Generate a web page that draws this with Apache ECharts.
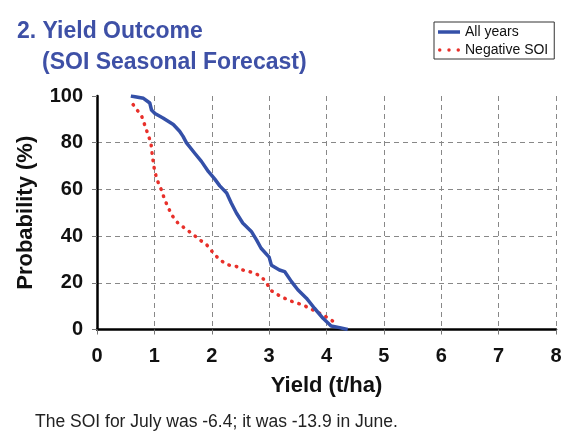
<!DOCTYPE html>
<html>
<head>
<meta charset="utf-8">
<script src="https://cdn.jsdelivr.net/npm/echarts@6/dist/echarts.min.js"></script>
<style>
html,body{margin:0;padding:0;background:#fff;}
#c{width:577px;height:437px;}
</style>
</head>
<body>
<div id="c"></div>
<script>
var titleLine1 = "2. Yield Outcome";
var titleLine2 = "(SOI Seasonal Forecast)";
var footnote = "The SOI for July was -6.4; it was -13.9 in June.";
var xAxisName = "Yield (t/ha)";
var yAxisName = "Probability (%)";
var seriesNames = ["All years", "Negative SOI"];

var allYearsYield = [0.59,0.81,0.92,0.95,1.01,1.15,1.33,1.44,1.50,1.56,1.70,1.82,1.94,2.05,2.14,2.26,2.34,2.43,2.54,2.69,2.78,2.86,3.00,3.04,3.18,3.27,3.39,3.50,3.65,3.79,3.94,4.08,4.23,4.37];
var allYearsProb  = [100,99,97,94,92.5,90.6,87.8,84.9,82.7,79.9,75.6,72,67.7,64.5,61.5,58.5,54.2,49.9,45.6,42,38.4,34.8,31,27.5,25.5,24.8,20.5,17,13.4,9.1,4.8,1.5,0.8,0];

var negYield = [0.63,0.78,0.86,0.94,0.96,0.99,1.03,1.07,1.12,1.18,1.30,1.41,1.53,1.68,1.79,1.91,2.03,2.14,2.28,2.43,2.54,2.66,2.81,2.92,3.04,3.21,3.41,3.59,3.76,3.94,4.08,4.20];
var negProb  = [96.3,91.3,85.6,79.9,75.6,69.9,65.6,62.7,59.9,55.6,49.1,45.6,43.4,40.6,38.4,36.3,32.7,29.8,27.7,27,25.5,24.8,23.4,21.2,16.6,14,11.9,10.5,8.4,6.2,4.1,1.9];

function zip(a, b) { return a.map(function (v, i) { return [v, b[i]]; }); }

var chart = echarts.init(document.getElementById('c'), null, {renderer: 'canvas'});
var font = "'Liberation Sans', Arial, sans-serif";
chart.setOption({
  animation: false,
  backgroundColor: '#fff',
  textStyle: {fontFamily: font},
  title: [
    {text: titleLine1, left: 12, top: 15, textStyle: {color: '#3e50a6', fontSize: 23, fontWeight: 'bold', fontFamily: font}},
    {text: titleLine2, left: 37, top: 46, textStyle: {color: '#3e50a6', fontSize: 23, fontWeight: 'bold', fontFamily: font}}
  ],
  legend: {
    orient: 'vertical',
    left: 434, top: 22,
    itemWidth: 22, itemHeight: 10, itemGap: 4,
    padding: [3, 6, 2, 4],
    borderColor: '#333', borderWidth: 1,
    textStyle: {fontSize: 14, color: '#111', fontFamily: font},
    data: [
      {name: seriesNames[0], icon: 'path://M0,0 L22,0 L22,3.5 L0,3.5 Z'},
      {name: seriesNames[1], icon: 'path://M1,0 A1.5,1.5 0 1 1 1,3 A1.5,1.5 0 1 1 1,0 Z M9,0 A1.5,1.5 0 1 1 9,3 A1.5,1.5 0 1 1 9,0 Z M17,0 A1.5,1.5 0 1 1 17,3 A1.5,1.5 0 1 1 17,0 Z'}
    ]
  },
  grid: {left: 97, right: 21, top: 96, bottom: 107.5, outerBoundsMode: 'none', containLabel: false},
  xAxis: {
    type: 'value', min: 0, max: 8, interval: 1,
    name: xAxisName, nameLocation: 'middle', nameGap: 45,
    nameTextStyle: {fontSize: 22, fontWeight: 'bold', color: '#111', fontFamily: font},
    axisLine: {show: true, onZero: false, lineStyle: {color: '#000', width: 2.5}},
    axisTick: {show: true, length: 5, lineStyle: {color: '#777', width: 1}},
    axisLabel: {fontSize: 20, fontWeight: 'bold', color: '#111', margin: 17, fontFamily: font},
    splitLine: {show: true, lineStyle: {color: '#888', type: [5, 4], width: 1}}
  },
  yAxis: {
    type: 'value', min: 0, max: 100, interval: 20,
    name: yAxisName, nameLocation: 'middle', nameGap: 60, nameRotate: 90,
    nameTextStyle: {fontSize: 22, fontWeight: 'bold', color: '#111', fontFamily: font},
    axisLine: {show: true, onZero: false, lineStyle: {color: '#000', width: 2.5}},
    axisTick: {show: true, length: 5, lineStyle: {color: '#777', width: 1}},
    axisLabel: {fontSize: 20, fontWeight: 'bold', color: '#111', margin: 14, fontFamily: font},
    splitLine: {show: true, showMaxLine: false, lineStyle: {color: '#888', type: [5, 4], width: 1}}
  },
  graphic: [
    {type: 'text', left: 35, top: 413, style: {text: footnote, fill: '#222', font: "17.5px 'Liberation Sans', Arial, sans-serif"}}
  ],
  series: [
    {
      name: seriesNames[0], type: 'line', data: zip(allYearsYield, allYearsProb),
      showSymbol: false, symbol: 'none', color: '#3450a8',
      lineStyle: {color: '#3450a8', width: 3.5, join: 'round'}, z: 3
    },
    {
      name: seriesNames[1], type: 'line', data: zip(negYield, negProb),
      showSymbol: false, symbol: 'none', color: '#e8302a',
      lineStyle: {color: '#e8302a', width: 3.5, type: [0.5, 7], cap: 'round'}, z: 2
    }
  ]
});
</script>
</body>
</html>
